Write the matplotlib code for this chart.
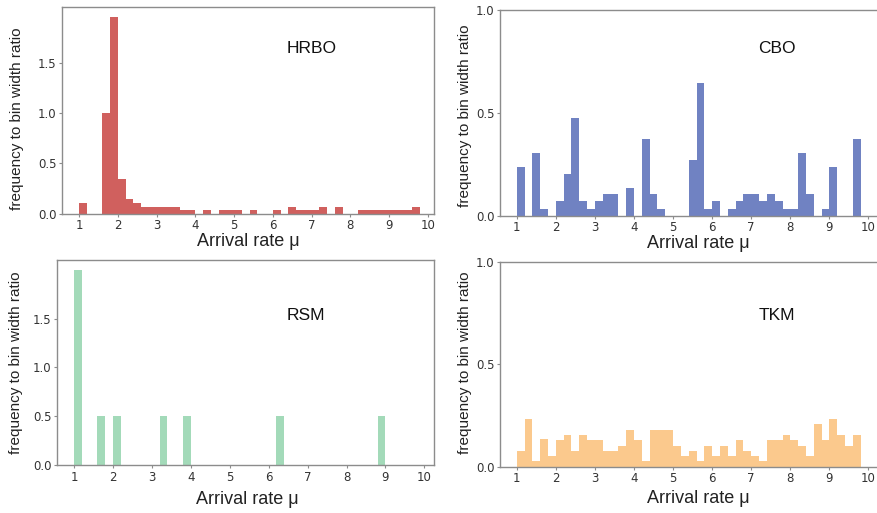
import numpy as np
import matplotlib.pyplot as plt

# histogram bins: width 0.2 starting at 1.0
bin_start = 1.0
bin_width = 0.2
n_bins = 44

hrbo = [0.11, 0, 0, 1.0, 1.95, 0.34, 0.15, 0.11, 0.07, 0.07,
        0.07, 0.07, 0.07, 0.035, 0.035, 0, 0.035, 0, 0.035, 0.035,
        0.035, 0, 0.035, 0, 0, 0.035, 0, 0.07, 0.035, 0.035,
        0.035, 0.07, 0, 0.07, 0, 0, 0.035, 0.035, 0.035, 0.035,
        0.035, 0.035, 0.035, 0.07]

cbo = [0.237, 0, 0.307, 0.034, 0, 0.07, 0.205, 0.476, 0.07, 0.034,
       0.07, 0.104, 0.104, 0, 0.136, 0, 0.373, 0.104, 0.034, 0,
       0, 0, 0.273, 0.644, 0.034, 0.07, 0, 0.034, 0.07, 0.104,
       0.104, 0.07, 0.104, 0.07, 0.034, 0.034, 0.307, 0.104, 0, 0.034,
       0.237, 0, 0, 0.373]

rsm = [2.0, 0, 0, 0.5, 0, 0.5, 0, 0, 0, 0,
       0, 0.5, 0, 0, 0.5, 0, 0, 0, 0, 0,
       0, 0, 0, 0, 0, 0, 0.5, 0, 0, 0,
       0, 0, 0, 0, 0, 0, 0, 0, 0, 0.5,
       0, 0, 0, 0]

tkm = [0.077, 0.231, 0.026, 0.137, 0.05, 0.129, 0.155, 0.077, 0.155, 0.129,
       0.129, 0.077, 0.077, 0.103, 0.181, 0.129, 0.026, 0.181, 0.181, 0.181,
       0.103, 0.05, 0.077, 0.026, 0.103, 0.05, 0.103, 0.05, 0.129, 0.077,
       0.05, 0.026, 0.129, 0.129, 0.155, 0.129, 0.103, 0.05, 0.207, 0.129,
       0.231, 0.155, 0.103, 0.155]

x_ticks = [1, 2, 3, 4, 5, 6, 7, 8, 9, 10]

W, H = 878, 513

panels = [
    # axes box in pixels (left, top, right, bottom); label/name spots in axes fractions
    dict(name="HRBO", vals=hrbo, color="#d0605e", box=(62, 7.3, 434, 213.7),
         xlim=(0.561, 10.16), ylim=(0, 2.05), yticks=[0.0, 0.5, 1.0, 1.5],
         ylab=(-0.101, 0.459), xlab=(0.5, -0.092), txt=(0.671, 0.799)),
    dict(name="CBO", vals=cbo, color="#7082c2", box=(500.3, 10.3, 881, 215.7),
         xlim=(0.58, 10.32), ylim=(0, 1.0), yticks=[0.0, 0.5, 1.0],
         ylab=(-0.0753, 0.486), xlab=(0.521, -0.092), txt=(0.726, 0.815)),
    dict(name="RSM", vals=rsm, color="#a3dab9", box=(57.3, 260, 434.3, 465),
         xlim=(0.571, 10.255), ylim=(0, 2.1), yticks=[0.0, 0.5, 1.0, 1.5],
         ylab=(-0.092, 0.5), xlab=(0.505, -0.127), txt=(0.66, 0.731)),
    dict(name="TKM", vals=tkm, color="#fbc98d", box=(500.3, 262, 881, 466.7),
         xlim=(0.58, 10.32), ylim=(0, 1.0), yticks=[0.0, 0.5, 1.0],
         ylab=(-0.0753, 0.51), xlab=(0.521, -0.116), txt=(0.726, 0.74)),
]

label_font = "Liberation Sans"
spine_color = "#8c8c8c"

fig = plt.figure(figsize=(W / 100, H / 100), dpi=100)

edges = bin_start + bin_width * np.arange(n_bins + 1)

for p in panels:
    l, t, r, b = p["box"]
    ax = fig.add_axes([l / W, 1 - b / H, (r - l) / W, (b - t) / H])
    ax.bar(edges[:-1], p["vals"], width=bin_width, align="edge",
           color=p["color"], linewidth=0)
    ax.set_xlim(*p["xlim"])
    ax.set_ylim(*p["ylim"])
    ax.set_xticks(x_ticks)
    ax.set_yticks(p["yticks"])
    ax.set_yticklabels(["{:.1f}".format(v) for v in p["yticks"]])
    ax.tick_params(labelsize=8.5, labelcolor="#333333", color=spine_color,
                   length=2.5, width=0.8, pad=1.5)
    for s in ax.spines.values():
        s.set_color(spine_color)
        s.set_linewidth(1.0)
    ax.set_ylabel("frequency to bin width ratio", fontsize=11,
                  family=label_font, color="#222222")
    ax.yaxis.set_label_coords(*p["ylab"])
    ax.set_xlabel("Arrival rate μ", fontsize=13, family=label_font,
                  color="#222222")
    ax.xaxis.set_label_coords(*p["xlab"])
    ax.text(p["txt"][0], p["txt"][1], p["name"], transform=ax.transAxes,
            ha="center", va="center", fontsize=12.5, family=label_font,
            color="#111111")

fig.savefig("out.png", dpi=100)
